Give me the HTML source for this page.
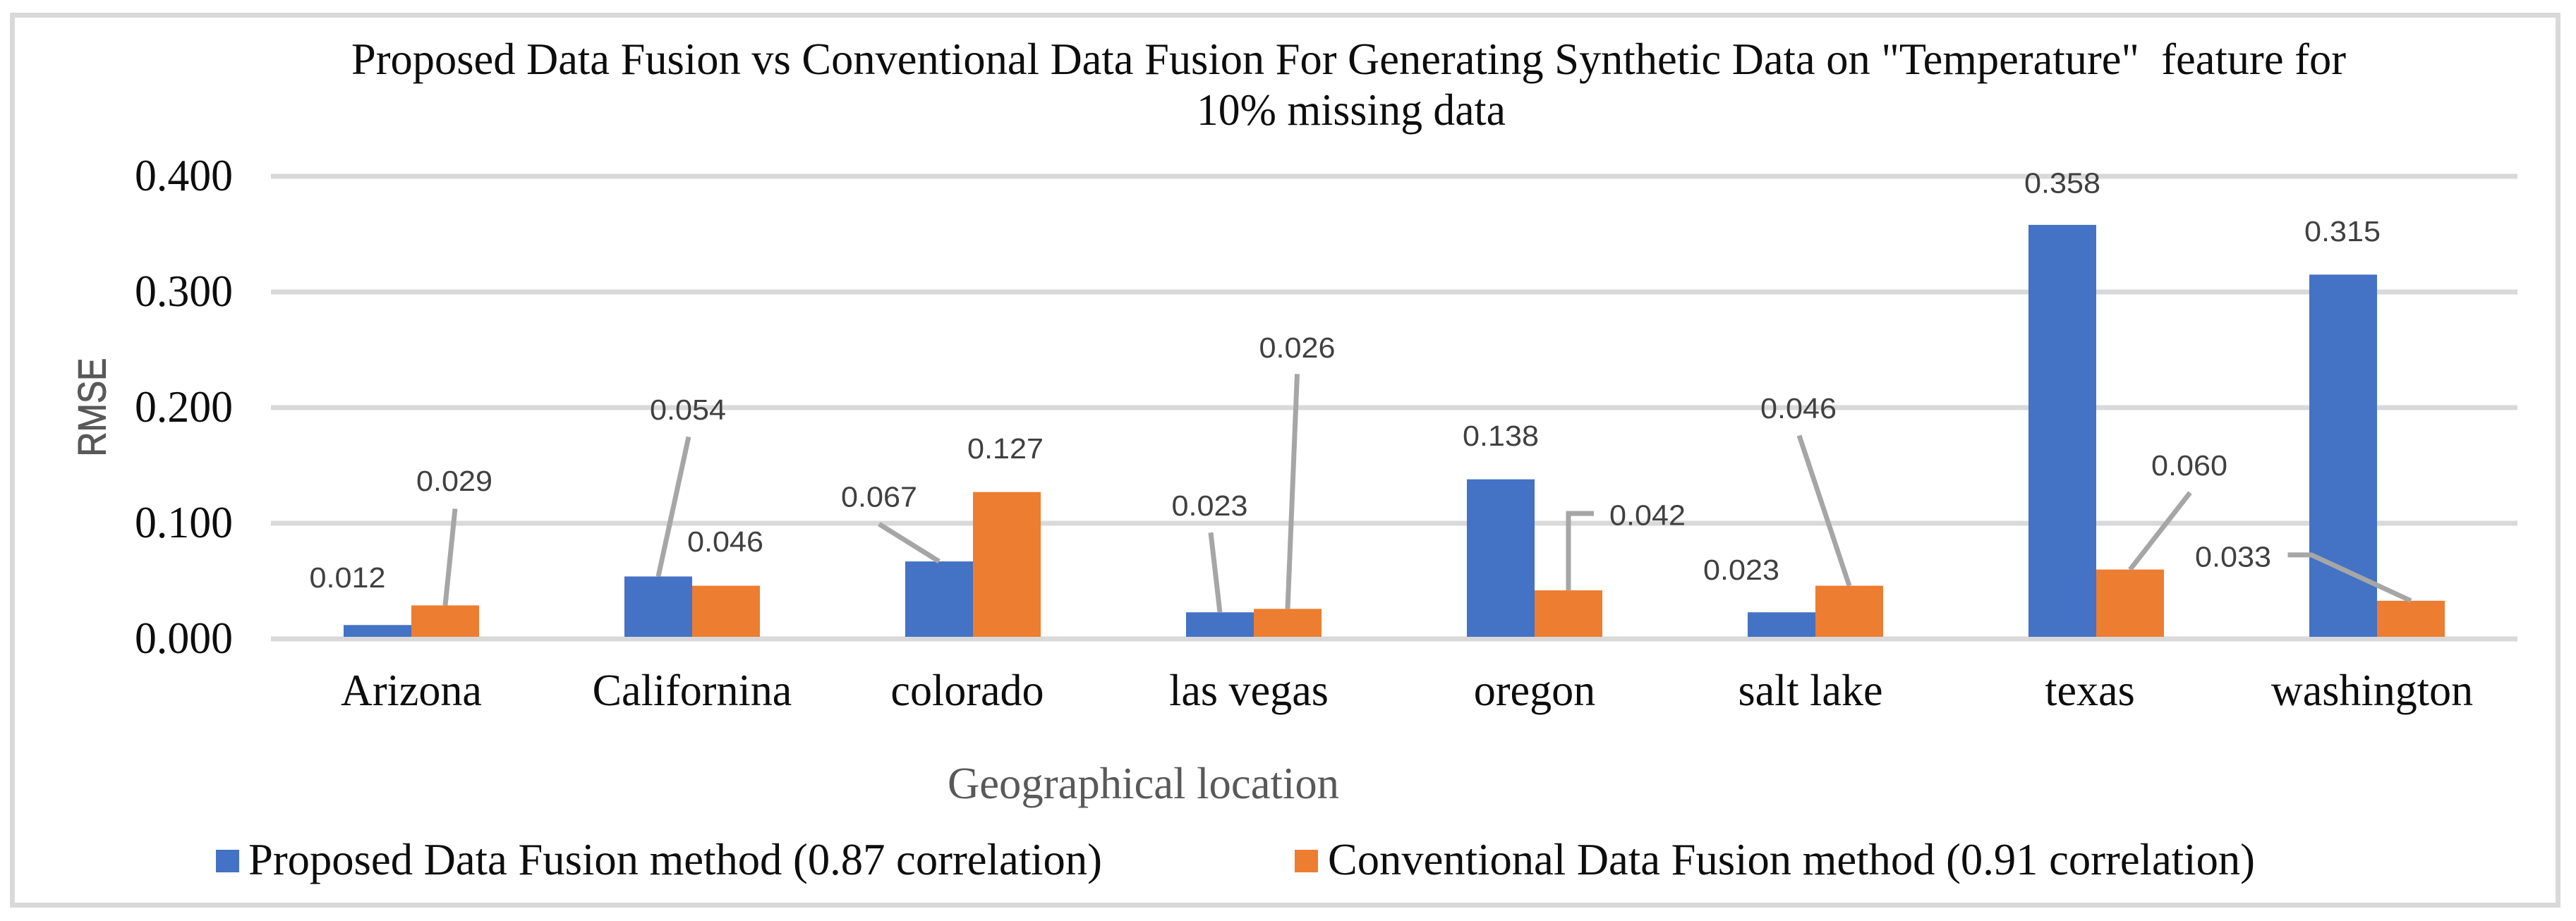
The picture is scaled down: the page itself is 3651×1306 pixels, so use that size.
<!DOCTYPE html>
<html lang="en">
<head>
<meta charset="utf-8">
<title>Proposed vs Conventional Data Fusion</title>
<style>
html,body{margin:0;padding:0;background:#fff;width:3651px;height:1306px;overflow:hidden}
svg{display:block}
.serif{font-family:"Liberation Serif",serif}
.sans{font-family:"Liberation Sans",sans-serif}
</style>
</head>
<body>
<svg id="chart" xmlns="http://www.w3.org/2000/svg" width="3651" height="1306" viewBox="0 0 3651 1306">
  <rect x="0" y="0" width="3651" height="1306" fill="#ffffff"/>
  <rect x="17.5" y="21.5" width="3608" height="1262" fill="#ffffff" stroke="#d9d9d9" stroke-width="7"/>
  <text class="serif" style="white-space:pre" x="498" y="105" font-size="63" fill="#0d0d0d" textLength="2827" lengthAdjust="spacingAndGlyphs">Proposed Data Fusion vs Conventional Data Fusion For Generating Synthetic Data on &quot;Temperature&quot;  feature for</text>
  <text class="serif" x="1696" y="177" font-size="63" fill="#0d0d0d" textLength="438" lengthAdjust="spacingAndGlyphs">10% missing data</text>
  <g id="grid"></g>
  <g id="yticks"></g>
  <g id="bars"></g>
  <g id="leaders"></g>
  <g id="labels"></g>
  <g id="xticks"></g>
  <text class="sans" transform="translate(149.5,647.5) rotate(-90)" x="0" y="0" font-size="56" fill="#595959" stroke="#595959" stroke-width="1" textLength="140" lengthAdjust="spacingAndGlyphs">RMSE</text>
  <text class="serif" x="1343" y="1132" font-size="63" fill="#595959" textLength="555" lengthAdjust="spacingAndGlyphs">Geographical location</text>
  <rect x="306" y="1205" width="33" height="32" fill="#4472c4"/>
  <text class="serif" x="352" y="1240" font-size="63" fill="#0d0d0d" textLength="1210" lengthAdjust="spacingAndGlyphs">Proposed Data Fusion method (0.87 correlation)</text>
  <rect x="1835" y="1205" width="33" height="32" fill="#ed7d31"/>
  <text class="serif" x="1882" y="1240" font-size="63" fill="#0d0d0d" textLength="1314" lengthAdjust="spacingAndGlyphs">Conventional Data Fusion method (0.91 correlation)</text>
</svg>
<script>
const categories = ['Arizona', 'Californina', 'colorado', 'las vegas', 'oregon', 'salt lake', 'texas', 'washington'];
const proposedValues = [0.012, 0.054, 0.067, 0.023, 0.138, 0.023, 0.358, 0.315];
const conventionalValues = [0.029, 0.046, 0.127, 0.026, 0.042, 0.046, 0.060, 0.033];
const tickValues = [0, 0.1, 0.2, 0.3, 0.4];
const tickLabels = ['0.000', '0.100', '0.200', '0.300', '0.400'];

/* Layout only: label nudges relative to each bar's top-centre */
const proposedLabelShift = [[-42.5,-54],[42,-223],[-85,-78],[-14.5,-138],[0,-48],[-57,-47],[0,-46],[-1,-48]];
const conventionalLabelShift = [[13,-163],[-1,-49],[-2,-48],[13.5,-357],[112,-93],[-72,-238],[84,-134],[-252,-49]];
const proposedLeaderShift = [null,[[43,-198]],[[-85,-53]],[[-13,-113]],null,null,null,null];
const conventionalLeaderShift = [[[14,-137]],null,null,[[13.5,-333]],[[36,-109],[0,-109]],[[-71,-213]],[[85,-109]],[[-174.5,-65],[-141,-65]]];
const categoryLabelShift = [0,0,-8,-7,0,-7,-9,-7];

const plotLeft = 384, plotRight = 3568, zeroY = 906, pxPerUnit = 1640, barWidth = 96, barBaseY = 903;
const NS = 'http://www.w3.org/2000/svg';
function yScale(v) { return zeroY - v * pxPerUnit; }
function xCenter(i) { return plotLeft + (plotRight - plotLeft) / categories.length * (i + 0.5); }
function make(tag, parent, attrs) {
  const el = document.createElementNS(NS, tag);
  for (const k in attrs) el.setAttribute(k, attrs[k]);
  document.getElementById(parent).appendChild(el);
  return el;
}

tickValues.forEach(function (v, i) {
  const line = make('line', 'grid', {x1: plotLeft, x2: plotRight, y1: yScale(v), y2: yScale(v), stroke: '#d9d9d9', 'stroke-width': 7});
  
  
  const t = make('text', 'yticks', {x: 330, y: yScale(v) + 20, 'text-anchor': 'end', 'font-size': 63, fill: '#0d0d0d', 'class': 'serif', textLength: 139, lengthAdjust: 'spacingAndGlyphs'});
  t.textContent = tickLabels[i];
  
  
});

categories.forEach(function (c, i) {
  const t = make('text', 'xticks', {x: xCenter(i) + categoryLabelShift[i], y: 1000, 'text-anchor': 'middle', 'font-size': 64, fill: '#0d0d0d', 'class': 'serif', lengthAdjust: 'spacingAndGlyphs'});
  t.textContent = c;
  t.setAttribute('textLength', t.getComputedTextLength() * 0.97);
  
  
});

function drawSeries(values, offset, color, labelShift, leaderShift, seriesName) {
  values.forEach(function (v, i) {
    const cx = xCenter(i) + offset;
    const top = yScale(v);
    const bar = make('rect', 'bars', {x: cx - barWidth / 2, y: top, width: barWidth, height: barBaseY - top, fill: color});
    
    
    if (leaderShift[i]) {
      const pts = leaderShift[i].map(function (p) { return (cx + p[0]) + ',' + (top + p[1]); });
      pts.push(cx + ',' + top);
      const leader = make('polyline', 'leaders', {points: pts.join(' '), fill: 'none', stroke: '#a6a6a6', 'stroke-width': 7});
      
      
    }
    const label = make('text', 'labels', {x: cx + labelShift[i][0], y: top + labelShift[i][1] + 0.5, 'text-anchor': 'middle', 'font-size': 41, fill: '#404040', 'class': 'sans', textLength: 108, lengthAdjust: 'spacingAndGlyphs'});
    label.textContent = v.toFixed(3);
    
    
  });
}
drawSeries(proposedValues, -48, '#4472c4', proposedLabelShift, proposedLeaderShift, 'proposed');
drawSeries(conventionalValues, 48, '#ed7d31', conventionalLabelShift, conventionalLeaderShift, 'conventional');
</script>
</body>
</html>
